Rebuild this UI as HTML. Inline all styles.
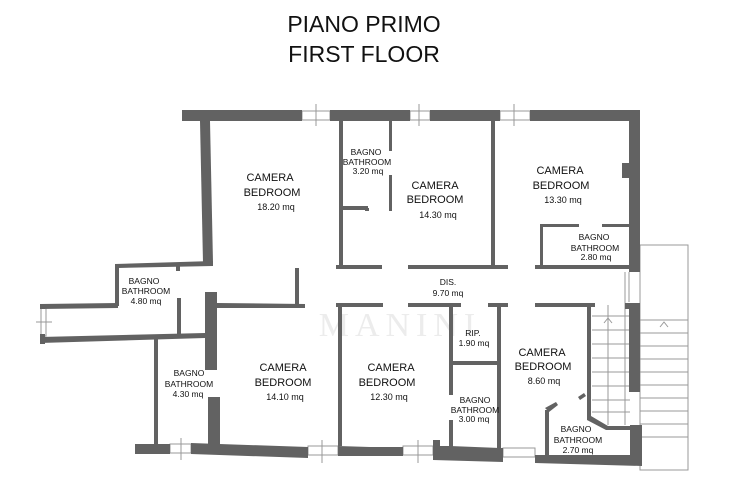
<!DOCTYPE html>
<html><head><meta charset="utf-8"><style>
html,body{margin:0;padding:0;background:#fff;}
svg{display:block;font-family:"Liberation Sans",sans-serif;}
.t{font-size:11px;fill:#111;text-anchor:middle}
.s{font-size:9px;fill:#111;text-anchor:middle}
.x{font-size:8.5px;fill:#111;text-anchor:middle}
</style></head><body>
<svg width="740" height="492" viewBox="0 0 740 492">
<rect width="740" height="492" fill="#fff"/>
<text x="364" y="32" style="font-size:23px;text-anchor:middle" fill="#111">PIANO PRIMO</text>
<text x="364" y="62" style="font-size:23px;text-anchor:middle" fill="#111">FIRST FLOOR</text>
<text x="400" y="336" style="font-size:34px;text-anchor:middle;letter-spacing:6px;font-family:'Liberation Serif',serif" fill="#ececec">MANINI</text>
<g stroke="#999" stroke-width="1" fill="none">
<!-- stairs -->
<rect x="640" y="245" width="48" height="225"/>
<line x1="640" y1="320" x2="688" y2="320"/><line x1="640" y1="333" x2="688" y2="333"/>
<line x1="640" y1="346" x2="688" y2="346"/><line x1="640" y1="359" x2="688" y2="359"/>
<line x1="640" y1="372" x2="688" y2="372"/><line x1="640" y1="385" x2="688" y2="385"/>
<line x1="640" y1="398" x2="688" y2="398"/><line x1="640" y1="411" x2="688" y2="411"/>
<line x1="640" y1="424" x2="688" y2="424"/><line x1="640" y1="437" x2="688" y2="437"/>
<line x1="592" y1="316" x2="630" y2="316"/><line x1="592" y1="330" x2="630" y2="330"/>
<line x1="592" y1="344" x2="630" y2="344"/><line x1="592" y1="358" x2="630" y2="358"/>
<line x1="592" y1="372" x2="630" y2="372"/><line x1="592" y1="386" x2="630" y2="386"/>
<line x1="592" y1="400" x2="630" y2="400"/><line x1="592" y1="412" x2="630" y2="412"/>
<line x1="608" y1="305" x2="608" y2="425"/><line x1="625" y1="272" x2="625" y2="425"/>
<line x1="629" y1="272" x2="629" y2="302"/>
<polyline points="604,323 608,318 612,323"/><polyline points="660,327 664,322 668,327"/>
<!-- windows -->
<rect x="302" y="111" width="28" height="9"/><line x1="316" y1="104" x2="316" y2="126"/>
<rect x="410" y="111" width="20" height="9"/><line x1="419" y1="104" x2="419" y2="126"/>
<rect x="500" y="111" width="30" height="9"/><line x1="514" y1="104" x2="514" y2="126"/>
<rect x="41" y="308" width="5" height="28"/><line x1="36" y1="322" x2="52" y2="322"/>
<rect x="170" y="444" width="21" height="9"/><line x1="181" y1="438" x2="181" y2="460"/>
<rect x="308" y="446" width="30" height="9"/><line x1="322" y1="440" x2="322" y2="463"/>
<rect x="403" y="446" width="30" height="9"/><line x1="418" y1="440" x2="418" y2="463"/>
<rect x="503" y="448" width="32" height="9"/>
</g>
<g fill="#626262" stroke="none">
<!-- top wall -->
<rect x="182" y="110" width="120" height="11"/>
<rect x="330" y="110" width="80" height="11"/>
<rect x="430" y="110" width="70" height="11"/>
<rect x="530" y="110" width="110" height="11"/>
<rect x="629" y="110" width="11" height="162"/>
<rect x="622" y="163" width="8" height="15"/>
<!-- left slanted wall -->
<polygon points="200,121 210,121 213,263 203,263"/>
<polygon points="115,264 213,261 213,266 118,268"/>
<rect x="115" y="264" width="4" height="42"/>
<rect x="176" y="265" width="4" height="6"/>
<rect x="177" y="298" width="4" height="38"/>
<polygon points="40,304 118,303 118,308 40,309"/>
<rect x="40" y="304" width="5" height="5"/><rect x="40" y="334" width="5" height="10"/>
<polygon points="40,337 205,333 205,338 40,343"/>
<rect x="205" y="292" width="12" height="78"/>
<rect x="208" y="397" width="12" height="50"/>
<rect x="154" y="339" width="4" height="106"/>
<polygon points="217,303 305,304 305,308 217,308"/>
<rect x="295" y="268" width="4" height="38"/>
<!-- bottom wall -->
<rect x="135" y="444" width="35" height="10"/>
<polygon points="191,443 308,447 308,458 191,454"/>
<polygon points="338,446 370,447 370,456 338,456"/>
<rect x="370" y="447" width="33" height="9"/>
<polygon points="433,440 440,440 440,446 450,446 500,448 503,448 503,462 433,460"/>
<polygon points="535,455 630,455 630,425 642,425 642,466 535,463"/>
<!-- middle walls -->
<rect x="339" y="121" width="4" height="147"/>
<rect x="343" y="206" width="25" height="4"/>
<rect x="365" y="208" width="4" height="3"/>
<rect x="389" y="121" width="3" height="30"/>
<rect x="389" y="175" width="3" height="36"/>
<rect x="491" y="121" width="4" height="147"/>
<rect x="336" y="265" width="46" height="4"/>
<rect x="408" y="265" width="100" height="4"/>
<rect x="535" y="265" width="97" height="4"/>
<rect x="540" y="224" width="3" height="44"/>
<rect x="540" y="224" width="39" height="3"/>
<rect x="602" y="224" width="28" height="3"/>
<!-- lower middle -->
<rect x="336" y="303" width="47" height="4"/>
<rect x="338" y="303" width="4" height="143"/>
<rect x="408" y="303" width="53" height="4"/>
<rect x="488" y="303" width="20" height="4"/>
<rect x="535" y="303" width="60" height="4"/>
<rect x="449" y="303" width="4" height="92"/>
<rect x="449" y="420" width="4" height="35"/>
<rect x="497" y="303" width="4" height="152"/>
<rect x="451" y="361" width="48" height="4"/>
<rect x="587" y="303" width="4" height="116"/>
<polygon points="587,416 591,416 608,426 630,426 630,430 606,430 587,420"/>
<rect x="629" y="303" width="11" height="89"/>
<rect x="625" y="303" width="6" height="6"/>
<rect x="545" y="410" width="4" height="46"/>
<polygon points="545,408 556,402 558,405 549,412"/>
<polygon points="578,397 584,393 586,396 580,400"/>
</g>
<text class="t" x="270" y="181">CAMERA</text><text class="t" x="272" y="196">BEDROOM</text><text class="s" x="276" y="210">18.20 mq</text>
<text class="x" x="366" y="155">BAGNO</text><text class="x" x="367" y="165">BATHROOM</text><text class="x" x="368" y="174">3.20 mq</text>
<text class="t" x="435" y="189">CAMERA</text><text class="t" x="435" y="203">BEDROOM</text><text class="s" x="438" y="218">14.30 mq</text>
<text class="t" x="560" y="174">CAMERA</text><text class="t" x="561" y="189">BEDROOM</text><text class="s" x="563" y="203">13.30 mq</text>
<text class="x" x="594" y="240">BAGNO</text><text class="x" x="595" y="251">BATHROOM</text><text class="x" x="596" y="260">2.80 mq</text>
<text class="x" x="448" y="285">DIS.</text><text class="x" x="448" y="296">9.70 mq</text>
<text class="x" x="144" y="284">BAGNO</text><text class="x" x="146" y="294">BATHROOM</text><text class="x" x="146" y="304">4.80 mq</text>
<text class="x" x="189" y="376">BAGNO</text><text class="x" x="189" y="387">BATHROOM</text><text class="x" x="188" y="397">4.30 mq</text>
<text class="t" x="283" y="371">CAMERA</text><text class="t" x="283" y="386">BEDROOM</text><text class="s" x="285" y="400">14.10 mq</text>
<text class="t" x="391" y="371">CAMERA</text><text class="t" x="387" y="386">BEDROOM</text><text class="s" x="389" y="400">12.30 mq</text>
<text class="x" x="473" y="336">RIP.</text><text class="x" x="474" y="346">1.90 mq</text>
<text class="x" x="475" y="403">BAGNO</text><text class="x" x="475" y="413">BATHROOM</text><text class="x" x="474" y="422">3.00 mq</text>
<text class="t" x="542" y="356">CAMERA</text><text class="t" x="543" y="370">BEDROOM</text><text class="s" x="544" y="384">8.60 mq</text>
<text class="x" x="576" y="432">BAGNO</text><text class="x" x="578" y="443">BATHROOM</text><text class="x" x="578" y="453">2.70 mq</text>
</svg>
</body></html>
